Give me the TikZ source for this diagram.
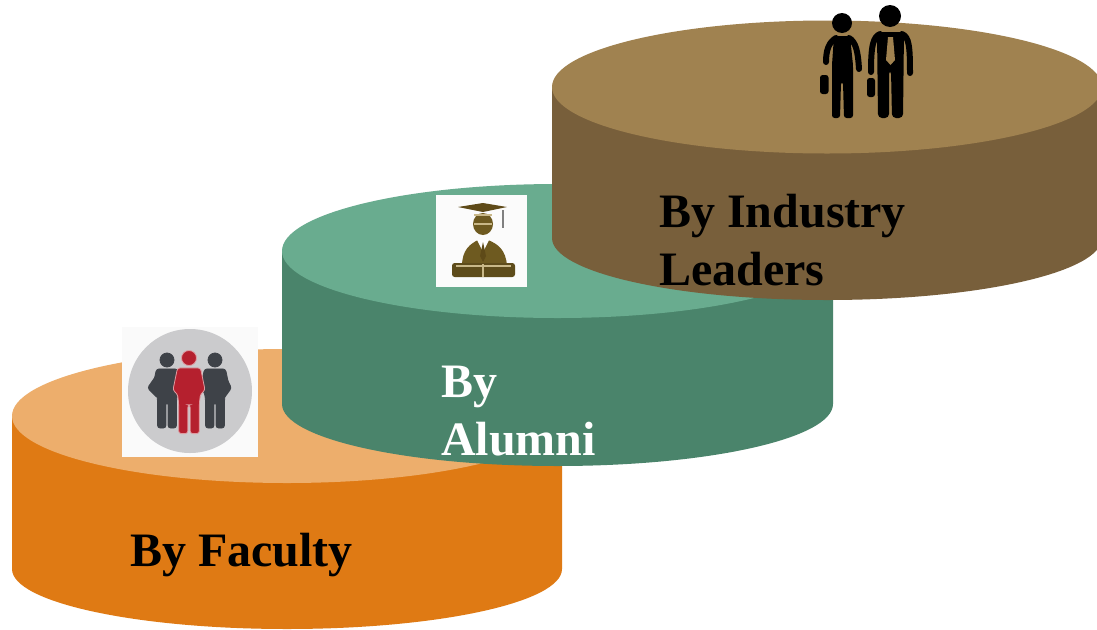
\documentclass[tikz,border=0pt]{standalone}
\usepackage{fontspec}
\setmainfont{Liberation Serif}
\definecolor{orTop}{HTML}{EDAE6C}
\definecolor{orSide}{HTML}{DF7A14}
\definecolor{grTop}{HTML}{69AC8F}
\definecolor{grSide}{HTML}{4A846B}
\definecolor{brTop}{HTML}{A08250}
\definecolor{brSide}{HTML}{785F3B}
\definecolor{iconDark}{HTML}{3E4248}
\definecolor{iconRed}{HTML}{B5202E}
\definecolor{iconGrey}{HTML}{CBCBCD}
\definecolor{capBrown}{HTML}{5E4A18}
\definecolor{gown}{HTML}{6E5A20}
\definecolor{trim}{HTML}{C9B888}
\tikzset{
  lbl/.style={font=\fontsize{36}{43.5}\selectfont\bfseries, align=left, anchor=north west, inner sep=0pt},
  blackfig/.style={fill=black, draw=none},
  limb/.style={draw=black, line width=4.5pt, line cap=round, line join=round},
}
% cx, cy, rx, ry, height, top colour, side colour, bottom ry
\newcommand{\cyl}[8]{%
  \fill[#7] (#1-#3,#2) -- (#1-#3,#2+#5) arc[start angle=180,end angle=0,x radius=#3,y radius=#8] -- (#1+#3,#2) -- cycle;
  \fill[#6] (#1,#2) ellipse[x radius=#3,y radius=#4];
}
% person: x, head y, x scale (px per unit), y scale, colour, outline, head radius
\newcommand{\person}[7]{%
  \fill[#5,draw=#6,line width=0.6pt] (#1,#2) circle[radius=#7];
  \begin{scope}[shift={(#1,#2)},x=#3*0.75pt,y=-#4*0.75pt]
    \fill[#5,draw=#6,line width=0.6pt,rounded corners=2pt] (-10,11) -- (10,11) -- (14,36) -- (10,40) -- (9,50) -- (9,84) -- (1,84) -- (1,52) -- (-1,52) -- (-1,84) -- (-9,84) -- (-9,50) -- (-10,40) -- (-14,36) -- cycle;
  \end{scope}}
\begin{document}
\begin{tikzpicture}[x=0.75pt,y=-0.75pt]
\useasboundingbox (0,0) rectangle (1097,629);
\fill[white] (0,0) rectangle (1097,629);
\begin{scope}
\clip (0,0) rectangle (1097,629);
\cyl{287}{416}{275}{67}{153}{orTop}{orSide}{60}
\cyl{557.5}{251}{275.5}{67}{153}{grTop}{grSide}{62}
\cyl{827}{87}{275}{66.5}{151}{brTop}{brSide}{62}
\end{scope}

% faculty icon
\fill[white!90!iconGrey] (122,327) rectangle (258,457);
\fill[iconGrey] (190,391) circle[radius=62];
\fill[iconDark,rounded corners=2pt] (158,372) -- (147,388) -- (158,399) -- cycle;
\fill[iconDark,rounded corners=2pt] (224,372) -- (232,388) -- (224,399) -- cycle;
\person{167}{360}{1.05}{0.81}{iconDark}{iconDark}{7}
\person{215}{360}{1.05}{0.81}{iconDark}{iconDark}{7}
\person{189}{358}{1.15}{0.9}{iconRed}{iconRed!45!white}{7.5}

% alumni icon
\fill[white!97!gray] (436,195) rectangle (527,287);
\fill[gown] (483,224) ellipse[x radius=10,y radius=11];
\fill[gown] (462,266) .. controls (462,250) and (470,244) .. (478,240) -- (488,240) .. controls (498,244) and (506,250) .. (507,266) -- cycle;
\fill[white] (477,240) -- (489,240) -- (483,252) -- cycle;
\fill[capBrown] (483,242) -- (486,256) -- (483,262) -- (480,256) -- cycle;
\fill[capBrown] (458,207) -- (483,203) -- (507,207) -- (483,212) -- cycle;
\fill[gown!85!black, rounded corners=2pt] (452,263) rectangle (515,277);
\draw[trim,line width=0.9pt] (456,266) -- (511,266) (483,264) -- (483,277);
\draw[trim,line width=0.9pt] (474,215) -- (492,215) (474,224) -- (492,224);
\draw[gray,line width=1.6pt] (503,210) -- (503,228);

% couple icon
\fill[blackfig] (842,23) circle[radius=10];
\fill[blackfig] (890,16) circle[radius=11];
\fill[blackfig,rounded corners=2pt]
  (834,36) -- (850,36) -- (853,65) -- (853,118) -- (844,118) -- (843,82) -- (841,82) -- (840,118) -- (832,118) -- (832,65) -- cycle;
\path[limb] (836,38) .. controls (829,42) and (826,50) .. (826,62);
\path[limb] (849,38) .. controls (856,42) and (858,52) .. (859,69);
\fill[blackfig,rounded corners=2pt] (820,75) rectangle (828.5,94);
\fill[blackfig,rounded corners=3pt]
  (877,32) -- (904,32) -- (903,118) -- (892,118) -- (891,70) -- (889,70) -- (889,118) -- (878,118) -- cycle;
\path[limb] (880,34) .. controls (873,37) and (871,46) .. (871,72);
\path[limb] (902,34) .. controls (909,37) and (910,46) .. (910,73);
\fill[blackfig,rounded corners=2pt] (867,78) rectangle (875,97);
\fill[brTop] (888,37) -- (893,37) -- (895,60) -- (890.5,65) -- (886,60) -- cycle;

\node[lbl,text=black] (industry) at (659,194) {By Industry\\Leaders};
\node[lbl,text=white] (alumni) at (441,366) {By\\Alumni};
\node[lbl,text=black] (faculty) at (130,533) {By Faculty};
\end{tikzpicture}
\end{document}
